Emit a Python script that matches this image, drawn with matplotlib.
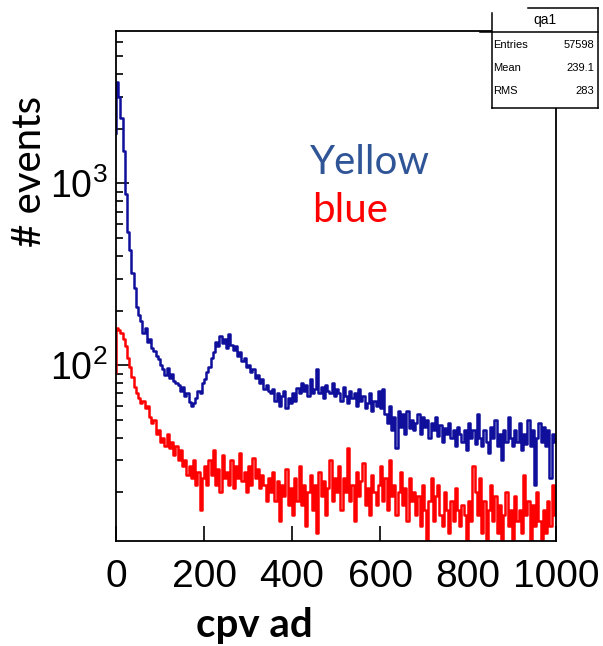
import matplotlib
matplotlib.use('Agg')
import matplotlib.pyplot as plt
import numpy as np
from matplotlib.lines import Line2D
from matplotlib.ticker import LogLocator, NullFormatter, FixedLocator

# histogram "qa1": 200 bins of width 5 adc counts, 0..1000
bin_edges = np.arange(0, 1005, 5)

# value the left edge of each histogram starts from (drawn as the first vertical)
yellow_start = 1900
blue_start = 92

yellow_counts = [
    3600, 3000, 2300, 1500, 880, 540, 430, 320, 265, 210,
    190, 175, 150, 160, 135, 140, 125, 120, 112, 108,
    100, 96, 88, 97, 85, 90, 82, 80, 78, 72,
    76, 68, 70, 63, 60, 62, 66, 72, 70, 80,
    84, 92, 98, 110, 118, 135, 128, 145, 132, 140,
    125, 148, 130, 122, 128, 112, 118, 105, 110, 98,
    100, 92, 96, 85, 88, 80, 84, 74, 78, 72,
    70, 74, 64, 70, 60, 68, 72, 58, 66, 62,
    70, 64, 75, 70, 80, 72, 78, 68, 84, 70,
    74, 96, 70, 76, 66, 78, 72, 70, 80, 68,
    74, 70, 64, 76, 68, 62, 72, 66, 70, 60,
    74, 64, 68, 58, 62, 70, 56, 64, 60, 72,
    58, 74, 54, 48, 60, 44, 52, 35, 56, 46,
    54, 42, 56, 45, 50, 44, 48, 54, 42, 52,
    46, 50, 40, 48, 44, 52, 41, 47, 38, 45,
    42, 48, 40, 44, 36, 46, 42, 38, 44, 34,
    48, 40, 44, 37, 54, 40, 36, 44, 38, 33,
    46, 40, 50, 36, 42, 30, 44, 38, 52, 40,
    36, 44, 38, 48, 34, 42, 37, 50, 36, 44,
    22, 40, 48, 38, 46, 36, 44, 24, 42, 38,
]

blue_counts = [
    160, 156, 150, 140, 128, 110, 98, 86, 76, 70,
    66, 62, 64, 58, 60, 52, 48, 50, 42, 44,
    38, 40, 36, 42, 35, 38, 32, 36, 30, 34,
    28, 30, 25, 28, 24, 30, 22, 26, 16, 24,
    28, 22, 30, 25, 34, 22, 27, 20, 32, 24,
    26, 22, 30, 21, 28, 24, 33, 23, 26, 20,
    28, 22, 31, 24, 27, 21, 25, 22, 18, 24,
    20, 26, 18, 23, 14, 22, 19, 27, 17, 21,
    15, 24, 18, 28, 17, 22, 13, 20, 25, 16,
    22, 12, 26, 19, 23, 15, 21, 30, 18, 24,
    20, 28, 16, 24, 20, 35, 18, 22, 14, 26,
    19, 23, 29, 17, 21, 15, 25, 20, 17, 22,
    28, 18, 24, 16, 30, 19, 22, 15, 20, 26,
    17, 21, 14, 24, 18, 20, 15, 19, 13, 22,
    16, 10, 18, 24, 14, 19, 22, 15, 13, 20,
    16, 12, 18, 14, 21, 16, 13, 17, 15, 10,
    18, 14, 28, 20, 15, 24, 12, 18, 10, 16,
    22, 14, 19, 12, 17, 10, 15, 20, 13, 16,
    11, 19, 14, 16, 12, 25, 15, 18, 10, 17,
    13, 20, 14, 10, 16, 12, 18, 13, 22, 15,
]

x_ticks = [0, 200, 400, 600, 800, 1000]
stats_rows = [('Entries', '57598'), ('Mean', '239.1'), ('RMS', '283')]

num_font = ['Liberation Sans', 'DejaVu Sans']
word_font = ['Lato', 'DejaVu Sans']

plt.rcParams['mathtext.fontset'] = 'custom'
plt.rcParams['mathtext.rm'] = 'Liberation Sans'

fig = plt.figure(figsize=(6.03, 6.46), dpi=100)
ax = fig.add_axes([116 / 603, 105 / 646, 440 / 603, 510 / 646])


def draw_hist(counts, start, colour):
    xs = np.r_[bin_edges[0], bin_edges]
    ys = np.r_[start, counts, counts[-1]]
    ax.step(xs, ys, where='post', color=colour, lw=1.8)


draw_hist(yellow_counts, yellow_start, '#0f0f9c')
draw_hist(blue_counts, blue_start, '#ff0000')

ax.set_yscale('log')
ax.set_xlim(0, 1000)
ax.set_ylim(10.8, 6900)

ax.xaxis.set_major_locator(FixedLocator(x_ticks))
ax.yaxis.set_major_locator(LogLocator(base=10))
ax.yaxis.set_minor_locator(LogLocator(base=10, subs=np.arange(2, 10)))
ax.yaxis.set_minor_formatter(NullFormatter())

ax.tick_params(axis='both', which='both', direction='in', right=False, top=False)
ax.tick_params(axis='y', which='major', length=9, width=1.2, pad=6)
ax.tick_params(axis='y', which='minor', length=5, width=1.2)
ax.tick_params(axis='x', which='major', length=11, width=1.2, pad=13)
for lab in ax.get_xticklabels():
    lab.set_family(num_font)
    lab.set_fontsize(28)
for lab in ax.get_yticklabels():
    lab.set_family(num_font)
    lab.set_fontsize(27)
for sp in ax.spines.values():
    sp.set_linewidth(1.3)

ax.text(0.314, -0.165, 'cpv ad', transform=ax.transAxes, family=word_font,
        fontweight='bold', fontsize=29, ha='center', va='center')
ax.set_ylabel('# events', family=word_font, fontsize=29)
ax.yaxis.set_label_coords(-0.155, 0.725)

ax.text(0.44, 0.72, 'Yellow', transform=ax.transAxes, family=word_font,
        fontsize=29, color='#2f5597')
ax.text(0.445, 0.625, 'blue', transform=ax.transAxes, family=word_font,
        fontsize=29, color='#ff0000')

# ROOT stats box
bx0, bx1 = 491.5 / 603, 598 / 603
by_top, by_title, by_bot = 1 - 8 / 646, 1 - 32 / 646, 1 - 108 / 646
fig.patches.append(plt.Rectangle((bx0, by_bot), bx1 - bx0, by_top - by_bot,
                                 transform=fig.transFigure, facecolor='white',
                                 edgecolor='none', zorder=3))
for xs_, ys_ in [([528 / 603, bx1], [by_top, by_top]),
                 ([bx1, bx1], [by_top, by_bot]),
                 ([bx0, bx1], [by_bot, by_bot]),
                 ([bx0, bx0], [1 - 13 / 646, by_bot]),
                 ([480 / 603, bx1], [by_title, by_title])]:
    fig.add_artist(Line2D(xs_, ys_, color='black', lw=1.1, zorder=4))
fig.text((bx0 + bx1) / 2, 1 - 20 / 646, 'qa1', ha='center', va='center',
         fontsize=10, family=num_font, zorder=5)
for i, (name, val) in enumerate(stats_rows):
    yy = 1 - (45 + i * 23) / 646
    fig.text(bx0 + 0.003, yy, name, ha='left', va='center', fontsize=8,
             family=num_font, zorder=5)
    fig.text(bx1 - 0.006, yy, val, ha='right', va='center', fontsize=8,
             family=num_font, zorder=5)

fig.savefig('out.png', dpi=100)
